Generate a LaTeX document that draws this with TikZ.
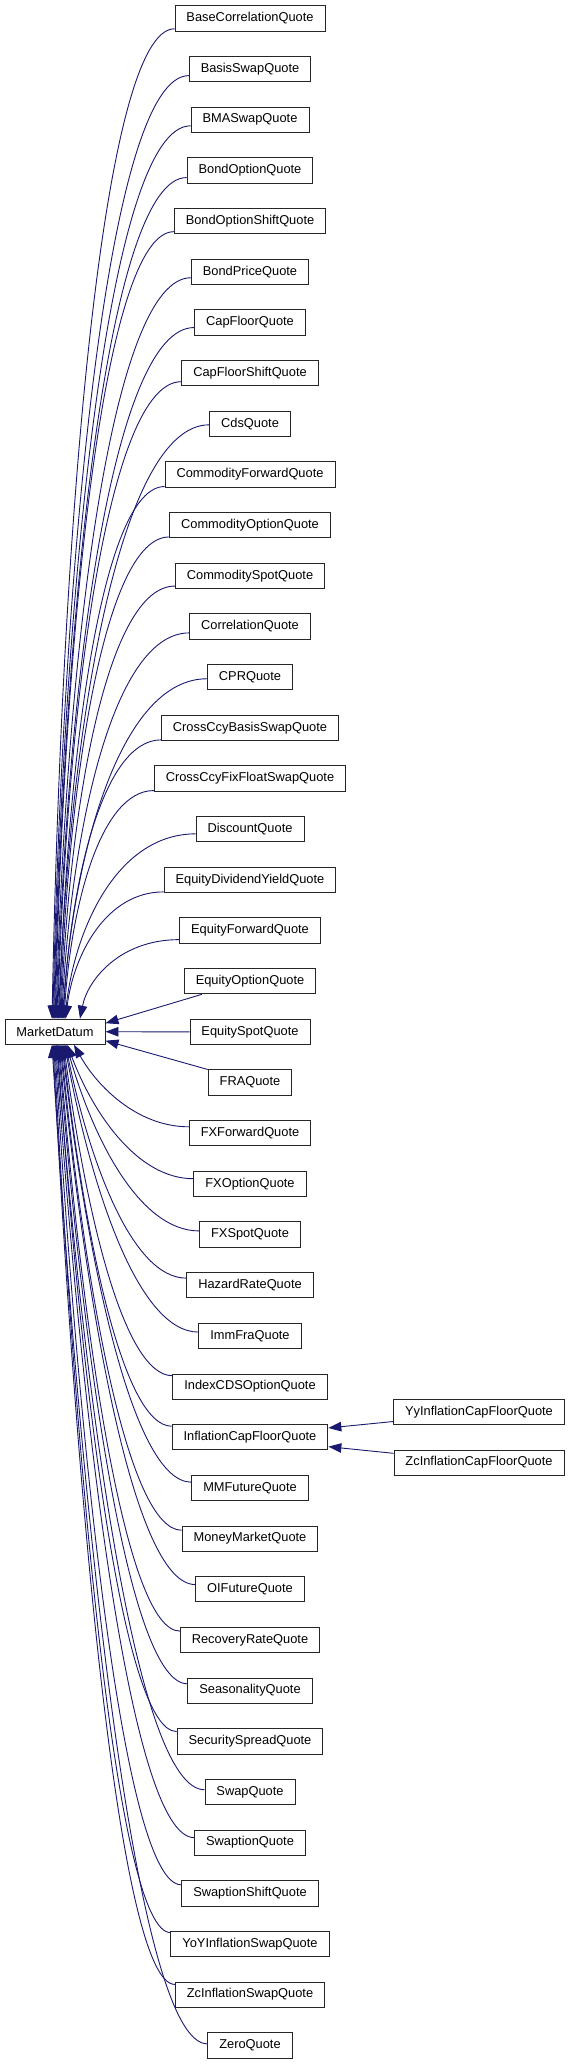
\documentclass[tikz,border=0pt]{standalone}
\usepackage{fontspec}
\setmainfont{Liberation Sans}
\usetikzlibrary{arrows.meta}
\definecolor{edgeblue}{HTML}{191970}
\begin{document}
\begin{tikzpicture}[x=1pt,y=-1pt,
  cls/.style={draw=black!85, line width=0.9pt, fill=white, inner xsep=11.5pt, inner ysep=0pt,
    minimum height=25.3pt, font=\fontsize{12.84}{15}\selectfont},
  edge/.style={draw=edgeblue, line width=0.9pt, -{Triangle[length=13pt,width=9.5pt]}}]
\useasboundingbox (0,0) rectangle (569,2064);
\def\childlist{BaseCorrelationQuote,BasisSwapQuote,BMASwapQuote,BondOptionQuote,BondOptionShiftQuote,BondPriceQuote,CapFloorQuote,CapFloorShiftQuote,CdsQuote,CommodityForwardQuote,CommodityOptionQuote,CommoditySpotQuote,CorrelationQuote,CPRQuote,CrossCcyBasisSwapQuote,CrossCcyFixFloatSwapQuote,DiscountQuote,EquityDividendYieldQuote,EquityForwardQuote,EquityOptionQuote,EquitySpotQuote,FRAQuote,FXForwardQuote,FXOptionQuote,FXSpotQuote,HazardRateQuote,ImmFraQuote,IndexCDSOptionQuote,InflationCapFloorQuote,MMFutureQuote,MoneyMarketQuote,OIFutureQuote,RecoveryRateQuote,SeasonalityQuote,SecuritySpreadQuote,SwapQuote,SwaptionQuote,SwaptionShiftQuote,YoYInflationSwapQuote,ZcInflationSwapQuote,ZeroQuote}
\node[cls] (MarketDatum) at (55,1031.7) {MarketDatum};
\foreach \name [count=\k from 0] in \childlist {
  \node[cls] (\name) at (250,{18.5+50.67*\k}) {\name};
}
\node[cls] (YyInflationCapFloorQuote) at (479,1412) {YyInflationCapFloorQuote};
\node[cls] (ZcInflationCapFloorQuote) at (479,1462.6) {ZcInflationCapFloorQuote};
\path (MarketDatum.north west); \pgfgetlastxy{\emx}{\emy}
\foreach \name [count=\k from 0] in \childlist {
  \path (\name.west); \pgfgetlastxy{\exl}{\eyl}
  \pgfmathsetmacro{\eoff}{min(12,max(0,1+0.27*(209-\exl)))}
  \ifnum\k<19
    \pgfmathsetmacro{\etx}{\k==18 ? 80 : 52+0.8*\k}
    \pgfmathsetmacro{\etxs}{\etx-\emx}
    \pgfmathsetmacro{\esy}{-\eyl+\eoff}
    \pgfmathsetmacro{\edx}{\exl-\etx}
    \pgfmathsetmacro{\edy}{1019-\esy}
    \pgfmathsetmacro{\eca}{-0.59*\edx}
    \pgfmathsetmacro{\ecb}{0.08*\edx}
    \pgfmathsetmacro{\ecc}{-0.5*\edy}
    \draw[edge] ([yshift=-\eoff pt]\name.west) .. controls +(\eca,0) and +(\ecb,\ecc) .. ([xshift=\etxs pt]MarketDatum.north west);
  \fi
  \ifnum\k>21
    \pgfmathsetmacro{\etx}{\k==22 ? 74 : 52+0.9*(40-\k)}
    \pgfmathsetmacro{\etxs}{\etx-\emx}
    \pgfmathsetmacro{\esy}{-\eyl-\eoff}
    \pgfmathsetmacro{\edx}{\exl-\etx}
    \pgfmathsetmacro{\edy}{\esy-1044.3}
    \pgfmathsetmacro{\eca}{-0.45*\edx}
    \pgfmathsetmacro{\ecb}{0.2*\edx}
    \pgfmathsetmacro{\ecc}{0.5*\edy}
    \draw[edge] ([yshift=\eoff pt]\name.west) .. controls +(\eca,0) and +(\ecb,\ecc) .. ([xshift=\etxs pt]MarketDatum.south west);
  \fi
}
\draw[edge] ([xshift=18pt]EquityOptionQuote.south west) -- ([yshift=8.5pt]MarketDatum.east);
\draw[edge] (EquitySpotQuote.west) -- (MarketDatum.east);
\draw[edge] (FRAQuote.north west) -- ([yshift=-9pt]MarketDatum.east);
\draw[edge] ([yshift=-9.5pt]YyInflationCapFloorQuote.west) -- ([yshift=9.3pt]InflationCapFloorQuote.east);
\draw[edge] ([yshift=9.3pt]ZcInflationCapFloorQuote.west) -- ([yshift=-9.4pt]InflationCapFloorQuote.east);
\end{tikzpicture}
\end{document}
